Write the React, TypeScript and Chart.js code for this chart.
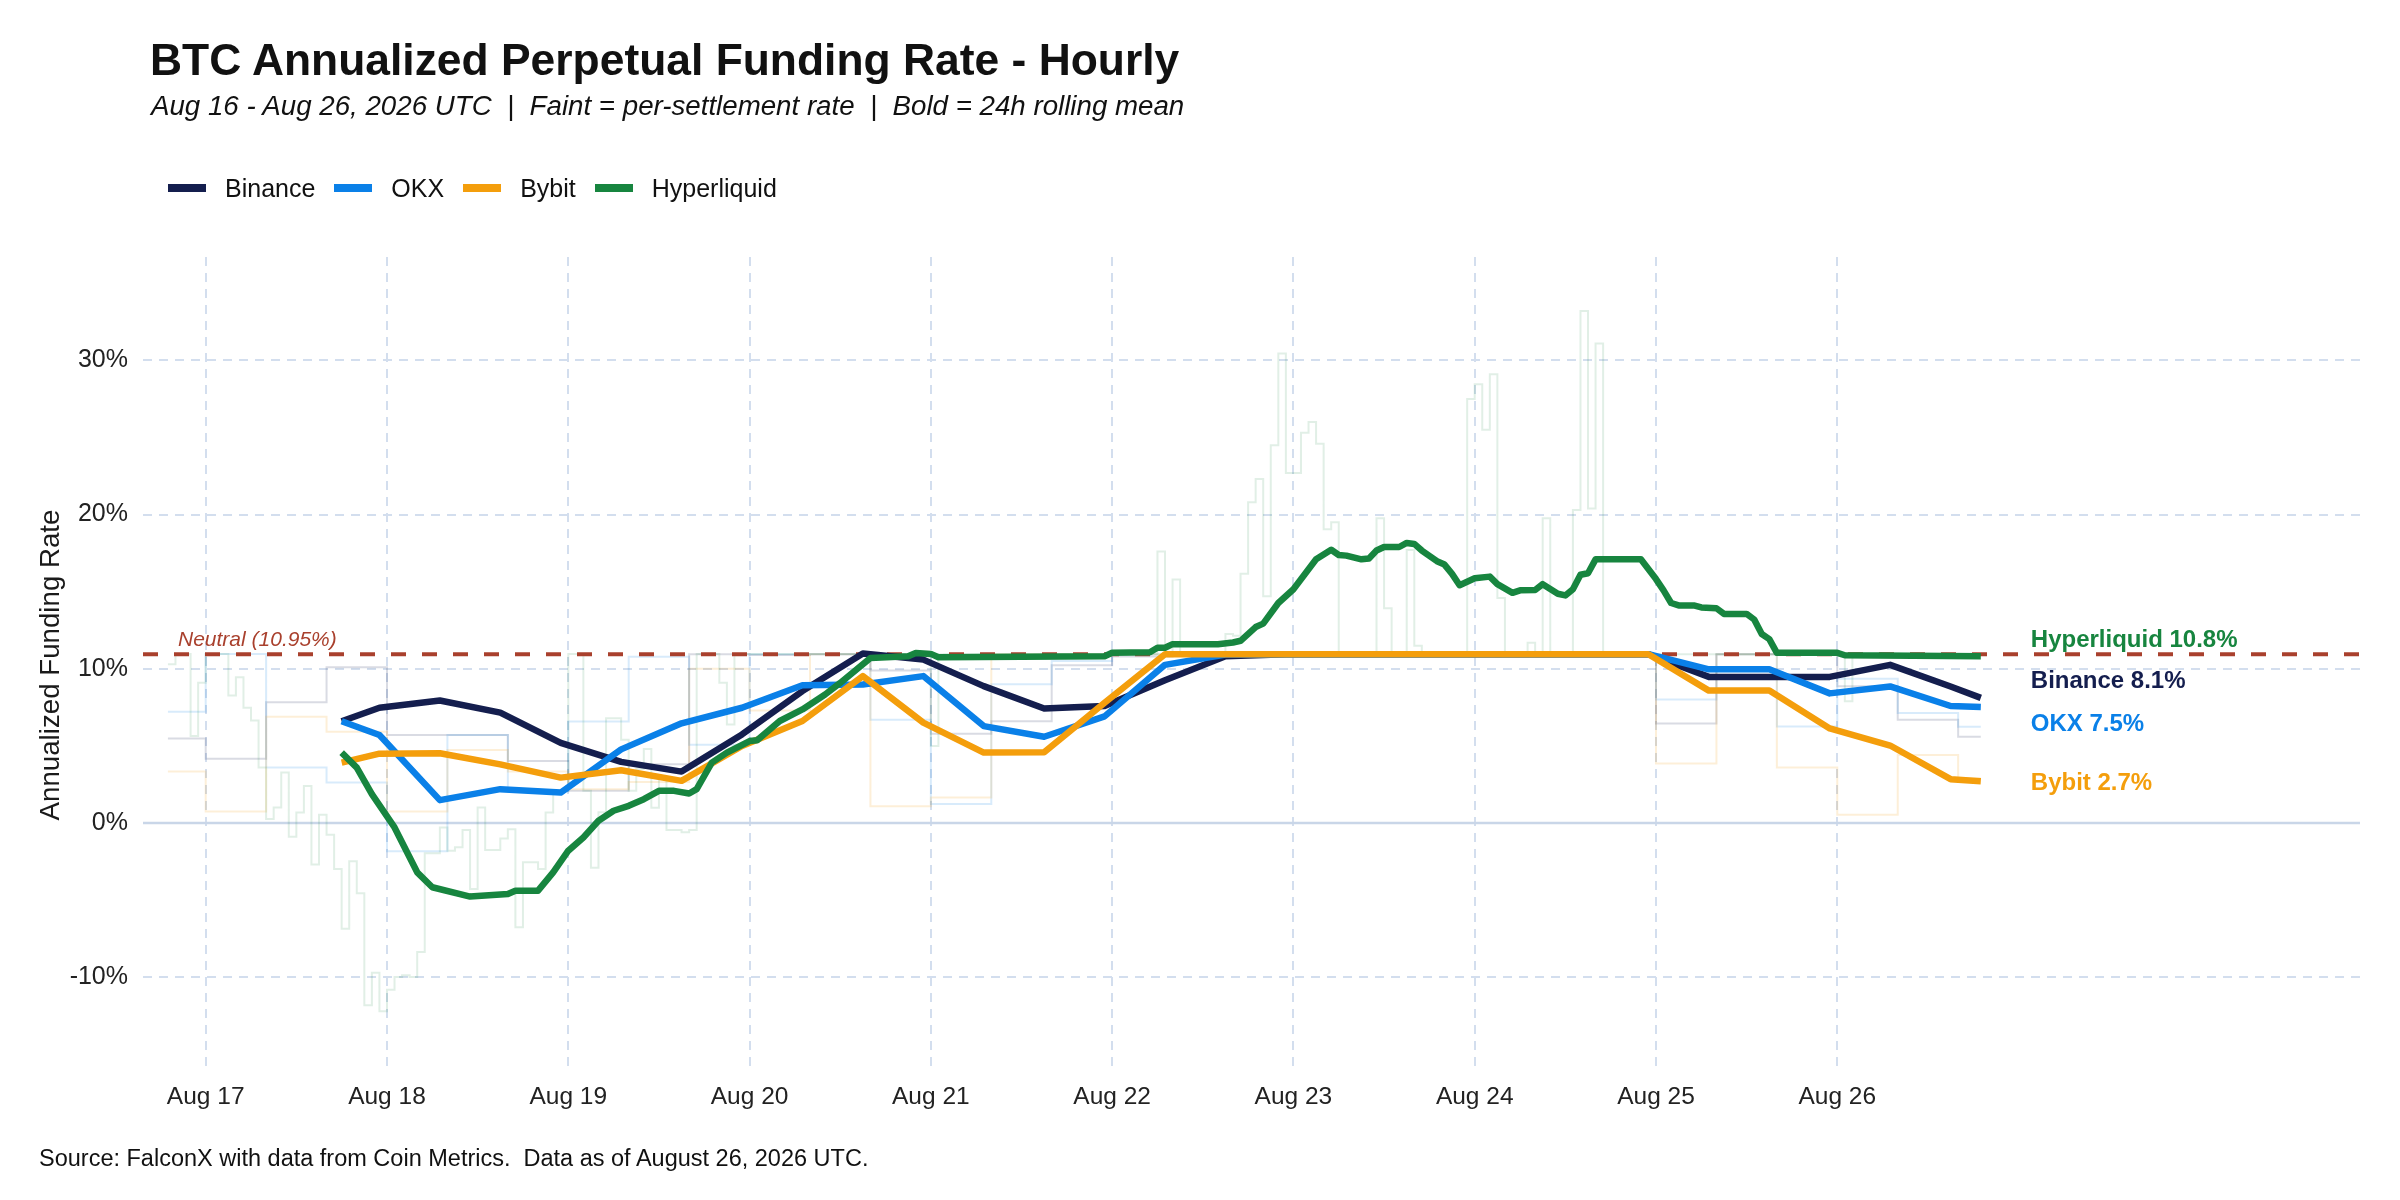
import React, { useEffect, useRef } from 'react';
import Chart from 'chart.js/auto';

// x values are hours counted from Aug 17 00:00 UTC
const tickHours = [0, 24, 48, 72, 96, 120, 144, 168, 192, 216];
const tickLabels = ['Aug 17', 'Aug 18', 'Aug 19', 'Aug 20', 'Aug 21', 'Aug 22', 'Aug 23', 'Aug 24', 'Aug 25', 'Aug 26'];
const rateTicks = [-10, 0, 10, 20, 30];
const neutralRate = 10.95;

const exchanges = ['Binance', 'OKX', 'Bybit', 'Hyperliquid'];

// faint: per-settlement rate, each value holds until the next hour
const binanceStepHours = [-5, 0, 8, 16, 24, 40, 48, 56, 64, 72, 80, 88, 96, 104, 112, 120, 128, 192, 200, 216, 224, 232, 235];
const binanceStepRates = [5.49, 4.18, 7.84, 10.1, 5.71, 4.03, 2.1, 3.82, 10.95, 10.9, 10.95, 9.9, 5.79, 6.6, 10.23, 10.8, 10.95, 6.45, 10.95, 8.88, 6.7, 5.6, 5.6];

const okxStepHours = [-5, 0, 8, 16, 24, 32, 40, 48, 56, 64, 72, 88, 96, 104, 112, 120, 192, 200, 208, 216, 224, 232, 235];
const okxStepRates = [7.22, 10.97, 3.6, 2.63, -1.83, 5.71, 2.05, 6.58, 10.78, 5.08, 10.95, 6.7, 1.24, 9.01, 10.51, 10.95, 8.01, 10.95, 6.27, 9.36, 7.14, 6.25, 6.25];

const bybitStepHours = [-5, 0, 8, 16, 24, 32, 40, 48, 56, 64, 72, 80, 88, 96, 104, 192, 200, 208, 216, 224, 232, 235];
const bybitStepRates = [3.34, 0.75, 6.9, 5.93, 0.76, 4.74, 3.35, 2.2, 2.67, 10.0, 7.3, 10.95, 1.1, 1.66, 10.95, 3.87, 10.95, 3.6, 0.54, 4.41, 2.9, 2.9];

const hlStepHours = [
  -5, -4, -2, -1, 0, 3, 4, 5, 6, 7, 8, 9, 10, 11, 12, 13, 14, 15, 16, 17,
  18, 19, 20, 21, 22, 23, 24, 25, 26, 27, 28, 29, 31, 32, 33, 34, 35, 36, 37, 39,
  40, 41, 42, 44, 45, 46, 48, 50, 51, 52, 53, 55, 56, 57, 58, 59, 60, 61, 63, 64,
  65, 68, 69, 70, 96, 97, 126, 127, 128, 129, 135, 136, 137, 138, 139, 140, 141, 142, 143, 145,
  146, 147, 148, 149, 150, 155, 156, 157, 159, 160, 161, 167, 168, 169, 170, 171, 172, 175, 176, 177,
  178, 181, 182, 183, 184, 185, 217, 218, 235,
];
const hlStepRates = [
  10.3, 10.97, 5.65, 9.1, 10.97, 8.28, 9.46, 7.48, 6.66, 3.6, 0.26, 1.01, 3.28, -0.88, 0.69, 2.41, -2.69, 0.54, -0.75, -2.97,
  -6.85, -2.48, -4.55, -11.8, -9.7, -12.2, -10.8, -9.98, -9.87, -9.98, -8.36, -1.96, -0.28, -1.79, -1.57, -0.45, -4.27, 1.01, -1.75, -1.0,
  -0.39, -6.75, -2.54, -2.97, 0.69, 2.09, 10.97, 2.09, -2.9, 0.7, 6.8, 5.4, 2.1, 3.5, 4.8, 1.0, 3.0, -0.45, -0.6, -0.45,
  10.97, 9.1, 6.4, 10.97, 5.0, 10.95, 17.6, 10.95, 15.8, 10.95, 12.26, 12.15, 16.16, 20.8, 22.3, 14.7, 24.5, 30.45, 22.7, 25.3,
  26.0, 24.6, 19.05, 19.5, 10.95, 19.76, 13.93, 10.95, 17.7, 11.5, 10.95, 27.5, 28.45, 25.5, 29.1, 14.6, 10.95, 11.7, 10.95, 19.76,
  10.95, 20.3, 33.2, 20.4, 31.1, 10.95, 7.9, 10.95, 10.95,
];

// bold: 24h rolling mean
const binanceMeanHours = [18, 23, 31, 39, 47, 55, 63, 71, 79, 87, 95, 103, 111, 119, 127, 135, 143, 191, 199, 215, 223, 231, 235];
const binanceMeanRates = [6.6, 7.48, 7.95, 7.16, 5.2, 3.97, 3.34, 5.75, 8.56, 11.0, 10.6, 8.88, 7.43, 7.59, 9.26, 10.82, 10.95, 10.95, 9.48, 9.48, 10.26, 8.86, 8.12];

const okxMeanHours = [18, 23, 31, 39, 47, 55, 63, 71, 79, 87, 95, 103, 111, 119, 127, 135, 191, 199, 207, 215, 223, 231, 235];
const okxMeanRates = [6.6, 5.71, 1.49, 2.2, 1.98, 4.78, 6.47, 7.48, 8.94, 8.99, 9.53, 6.29, 5.6, 6.92, 10.26, 10.93, 10.95, 9.97, 9.97, 8.41, 8.86, 7.59, 7.52];

const bybitMeanHours = [18, 23, 31, 39, 47, 55, 63, 71, 79, 87, 95, 103, 111, 119, 127, 191, 199, 207, 215, 223, 231, 235];
const bybitMeanRates = [3.92, 4.5, 4.53, 3.81, 2.95, 3.43, 2.74, 5.0, 6.62, 9.53, 6.51, 4.57, 4.59, 7.8, 10.95, 10.95, 8.59, 8.59, 6.14, 5.03, 2.85, 2.72];

const hlMeanHours = [
  18, 20, 22, 25, 28, 30, 35, 40, 41, 44, 46, 48, 50, 52, 54, 56, 58, 60, 62, 64,
  65, 67, 69, 72, 73, 76, 79, 82, 84, 88, 93, 94, 96, 97, 119, 120, 125, 126, 127, 128,
  134, 136, 137, 139, 140, 142, 144, 147, 149, 150, 151, 153, 154, 155, 156, 158, 159, 160, 161, 163,
  164, 165, 166, 168, 170, 171, 173, 174, 176, 177, 179, 180, 181, 182, 183, 184, 190, 192, 193, 194,
  195, 197, 198, 200, 201, 204, 205, 206, 207, 208, 216, 217, 235,
];
const hlMeanRates = [
  4.57, 3.6, 1.88, -0.28, -3.19, -4.16, -4.76, -4.59, -4.38, -4.38, -3.19, -1.79, -0.93, 0.15, 0.8, 1.12, 1.55, 2.09, 2.09, 1.92,
  2.2, 3.92, 4.57, 5.32, 5.37, 6.62, 7.37, 8.34, 9.09, 10.71, 10.82, 11.03, 10.97, 10.75, 10.82, 11.04, 11.08, 11.37, 11.37, 11.6,
  11.6, 11.71, 11.82, 12.71, 12.93, 14.27, 15.16, 17.1, 17.72, 17.38, 17.34, 17.1, 17.16, 17.67, 17.9, 17.9, 18.16, 18.1, 17.67, 16.98,
  16.76, 16.16, 15.42, 15.87, 15.98, 15.49, 14.93, 15.09, 15.11, 15.49, 14.87, 14.76, 15.16, 16.1, 16.2, 17.1, 17.1, 15.82, 15.09, 14.27,
  14.11, 14.11, 13.98, 13.93, 13.56, 13.56, 13.2, 12.26, 11.93, 11.04, 11.04, 10.88, 10.82,
];

const X_MIN = -8.3;
const X_MAX = 285.2;
const Y_MIN = -16.2;
const Y_MAX = 36.7;

const FONT = '"Liberation Sans", Arial, Helvetica, sans-serif';
const COLORS = ['#141e4e', '#0a80e8', '#f49e0c', '#17853f'];
const FAINT = ['rgba(20,30,78,0.16)', 'rgba(10,128,232,0.16)', 'rgba(244,158,12,0.16)', 'rgba(23,133,63,0.13)'];
const NEUTRAL_COLOR = '#a9402d';
const LABEL_NUDGE = [-16, 17, 2, -16];

const stepHours = [binanceStepHours, okxStepHours, bybitStepHours, hlStepHours];
const stepRates = [binanceStepRates, okxStepRates, bybitStepRates, hlStepRates];
const meanHours = [binanceMeanHours, okxMeanHours, bybitMeanHours, hlMeanHours];
const meanRates = [binanceMeanRates, okxMeanRates, bybitMeanRates, hlMeanRates];

const toPoints = (hours: number[], rates: number[]) => hours.map((h, i) => ({ x: h, y: rates[i] }));

const endLabels = {
  id: 'endLabels',
  afterDatasetsDraw(chart: any) {
    const { ctx, chartArea, scales } = chart;
    const x = scales.x;
    const y = scales.y;
    ctx.save();
    ctx.font = `italic 21px ${FONT}`;
    ctx.fillStyle = NEUTRAL_COLOR;
    ctx.textAlign = 'left';
    ctx.textBaseline = 'alphabetic';
    ctx.fillText(`Neutral (${neutralRate}%)`, chartArea.left + 35, y.getPixelForValue(neutralRate) - 8);

    ctx.font = `bold 24px ${FONT}`;
    ctx.textBaseline = 'middle';
    exchanges.forEach((name, i) => {
      const hours = meanHours[i];
      const rates = meanRates[i];
      const last = rates[rates.length - 1];
      const px = x.getPixelForValue(hours[hours.length - 1]) + 50;
      const py = y.getPixelForValue(last) + LABEL_NUDGE[i];
      ctx.fillStyle = COLORS[i];
      ctx.fillText(`${name} ${last.toFixed(1)}%`, px, py);
    });
    ctx.restore();
  },
};

const FundingRateChart: React.FC = () => {
  const chartRef = useRef<HTMLCanvasElement>(null);

  useEffect(() => {
    const ctx = chartRef.current?.getContext('2d');
    if (!ctx) return;

    const boldSets = exchanges.map((name, i) => ({
      label: name,
      data: toPoints(meanHours[i], meanRates[i]),
      borderColor: COLORS[i],
      borderWidth: 6.5,
      borderJoinStyle: 'round' as const,
      pointRadius: 0,
      tension: 0,
      order: 3 - i,
    }));
    const faintSets = exchanges.map((name, i) => ({
      label: `${name} settlement`,
      data: toPoints(stepHours[i], stepRates[i]),
      borderColor: FAINT[i],
      borderWidth: 2,
      pointRadius: 0,
      stepped: true,
      order: 10 - i,
    }));

    const chart = new Chart(ctx, {
      type: 'line',
      data: {
        datasets: [
          ...boldSets,
          {
            label: 'Neutral',
            data: [{ x: X_MIN, y: neutralRate }, { x: X_MAX, y: neutralRate }],
            borderColor: NEUTRAL_COLOR,
            borderWidth: 4,
            borderDash: [15, 16],
            pointRadius: 0,
            order: 5,
          },
          ...faintSets,
          {
            label: 'Zero',
            data: [{ x: X_MIN, y: 0 }, { x: X_MAX, y: 0 }],
            borderColor: '#c9d6e8',
            borderWidth: 2.5,
            pointRadius: 0,
            order: 20,
          },
        ],
      },
      options: {
        animation: false,
        responsive: false,
        devicePixelRatio: 1,
        layout: { padding: { top: 257, right: 40, bottom: 0, left: 0 } },
        plugins: {
          legend: { display: false },
          tooltip: { enabled: false },
        },
        scales: {
          x: {
            type: 'linear',
            min: X_MIN,
            max: X_MAX,
            afterBuildTicks: (scale: any) => {
              scale.ticks = tickHours.map((v) => ({ value: v }));
            },
            afterFit: (scale: any) => {
              scale.height = 127;
            },
            ticks: {
              autoSkip: false,
              maxRotation: 0,
              padding: 10,
              color: '#222',
              font: { family: FONT, size: 24.5 },
              callback: (value: any) => tickLabels[tickHours.indexOf(Number(value))] ?? '',
            },
            grid: { color: '#d3deee', lineWidth: 2, drawTicks: false },
            border: { display: false, dash: [9, 7] },
          },
          y: {
            type: 'linear',
            min: Y_MIN,
            max: Y_MAX,
            afterBuildTicks: (scale: any) => {
              scale.ticks = rateTicks.map((v) => ({ value: v }));
            },
            afterFit: (scale: any) => {
              scale.width = 143;
            },
            ticks: {
              padding: 15,
              color: '#222',
              font: { family: FONT, size: 25 },
              callback: (value: any) => `${value}%`,
            },
            grid: { color: '#d3deee', lineWidth: 2, drawTicks: false },
            border: { display: false, dash: [9, 7] },
            title: {
              display: true,
              text: 'Annualized Funding Rate',
              color: '#1a1a1a',
              font: { family: FONT, size: 27.7 },
              padding: { top: 35, bottom: 0 },
            },
          },
        },
      },
      plugins: [endLabels],
    });

    return () => {
      chart.destroy();
    };
  }, []);

  const text = { position: 'absolute' as const, fontFamily: FONT, color: '#111', whiteSpace: 'pre' as const };

  return (
    <div style={{ position: 'absolute', left: 0, top: 0, width: 2400, height: 1200, background: '#fff' }}>
      <canvas ref={chartRef} width={2400} height={1200} style={{ position: 'absolute', left: 0, top: 0 }}></canvas>
      <div style={{ ...text, left: 150, top: 38, fontSize: 44.4, lineHeight: '44px', fontWeight: 'bold' }}>
        BTC Annualized Perpetual Funding Rate - Hourly
      </div>
      <div style={{ ...text, left: 151, top: 92, fontSize: 27.7, lineHeight: '28px', fontStyle: 'italic' }}>
        {'Aug 16 - Aug 26, 2026 UTC  |  Faint = per-settlement rate  |  Bold = 24h rolling mean'}
      </div>
      <div style={{ ...text, left: 168, top: 173, height: 30, display: 'flex', alignItems: 'center', fontSize: 25 }}>
        {exchanges.map((name, i) => (
          <React.Fragment key={name}>
            <span style={{ display: 'inline-block', width: 38, height: 8, background: COLORS[i], marginRight: 19 }}></span>
            <span style={{ marginRight: 19 }}>{name}</span>
          </React.Fragment>
        ))}
      </div>
      <div style={{ ...text, left: 39, top: 1146, fontSize: 23.5, lineHeight: '24px' }}>
        {'Source: FalconX with data from Coin Metrics.  Data as of August 26, 2026 UTC.'}
      </div>
    </div>
  );
};

export default FundingRateChart;
